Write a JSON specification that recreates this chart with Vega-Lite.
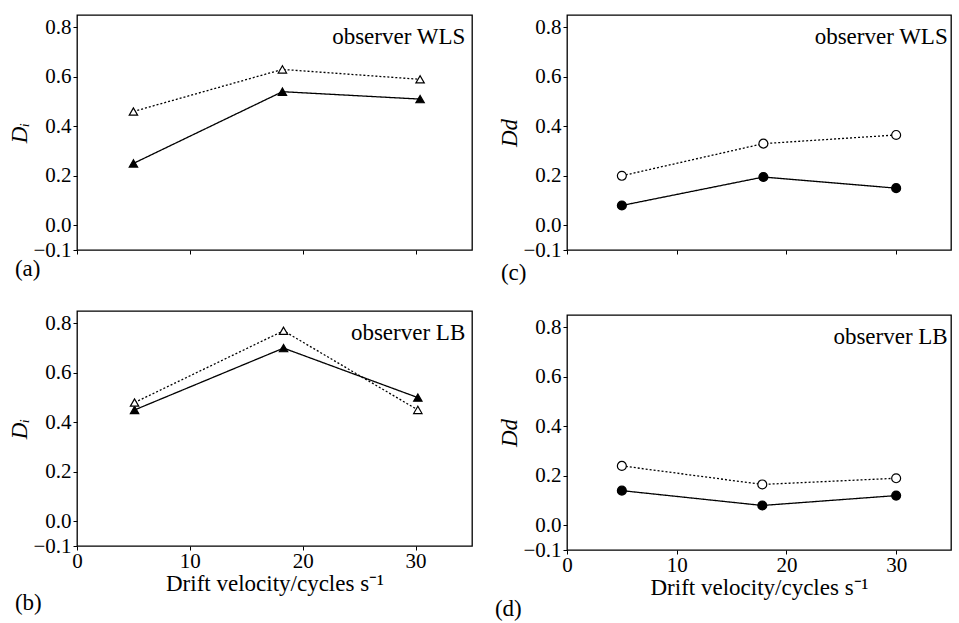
{
  "$schema": "https://vega.github.io/schema/vega-lite/v6.json",
  "background": "white",
  "padding": {"left": 8, "top": 14, "right": 0, "bottom": 0},
  "datasets": {
    "a": [
      {"x": 5, "y": 0.25, "series": "filled"}, {"x": 18.2, "y": 0.54, "series": "filled"}, {"x": 30.4, "y": 0.51, "series": "filled"},
      {"x": 5, "y": 0.46, "series": "open"}, {"x": 18.2, "y": 0.63, "series": "open"}, {"x": 30.4, "y": 0.59, "series": "open"}
    ],
    "b": [
      {"x": 5.1, "y": 0.45, "series": "filled"}, {"x": 18.3, "y": 0.70, "series": "filled"}, {"x": 30.2, "y": 0.50, "series": "filled"},
      {"x": 5.1, "y": 0.48, "series": "open"}, {"x": 18.3, "y": 0.77, "series": "open"}, {"x": 30.2, "y": 0.45, "series": "open"}
    ],
    "c": [
      {"x": 5, "y": 0.08, "series": "filled"}, {"x": 17.9, "y": 0.195, "series": "filled"}, {"x": 30, "y": 0.15, "series": "filled"},
      {"x": 5, "y": 0.20, "series": "open"}, {"x": 17.9, "y": 0.33, "series": "open"}, {"x": 30, "y": 0.365, "series": "open"}
    ],
    "d": [
      {"x": 5, "y": 0.14, "series": "filled"}, {"x": 17.8, "y": 0.08, "series": "filled"}, {"x": 30, "y": 0.12, "series": "filled"},
      {"x": 5, "y": 0.24, "series": "open"}, {"x": 17.8, "y": 0.165, "series": "open"}, {"x": 30, "y": 0.19, "series": "open"}
    ],
    "labWLS": [{"label": "observer WLS"}],
    "labLB": [{"label": "observer LB"}]
  },
  "config": {
    "font": "Liberation Serif",
    "view": {"stroke": "black", "strokeWidth": 1.3},
    "axis": {"grid": false, "domain": false, "tickColor": "black", "labelColor": "black", "titleColor": "black", "labelFontSize": 21, "titleFontSize": 23, "titleFontWeight": "normal", "tickSize": 4, "labelPadding": 2, "labelOverlap": false},
    "axisX": {"labelFlush": false},
    "title": {"fontSize": 23, "fontWeight": "normal", "color": "black"},
    "text": {"color": "black"}
  },
  "hconcat": [
    {
      "spacing": 28,
      "vconcat": [
        {
          "width": 395, "height": 235,
          "title": {"text": "(a)", "orient": "bottom", "anchor": "start", "frame": "bounds", "offset": -2, "dx": 6},
          "layer": [
            {"data": {"name": "a"}, "mark": {"type": "line", "color": "black", "strokeWidth": 1.3},
             "encoding": {
               "x": {"field": "x", "type": "quantitative", "scale": {"domain": [0, 35], "nice": false}, "axis": {"values": [0, 10, 20, 30], "labels": false, "title": null}},
               "y": {"field": "y", "type": "quantitative", "scale": {"domain": [-0.1, 0.85], "nice": false, "zero": false}, "axis": {"values": [-0.1, 0, 0.2, 0.4, 0.6, 0.8], "format": ".1f", "labelOverlap": false, "title": "Dᵢ", "titleFontStyle": "italic", "titlePadding": 1}},
               "detail": {"field": "series"},
               "strokeDash": {"field": "series", "type": "nominal", "scale": {"domain": ["filled", "open"], "range": [[1, 0], [2, 2]]}, "legend": null}}},
            {"mark": {"type": "rule", "strokeDash": [5, 4], "strokeWidth": 1, "color": "black"},
             "encoding": {"y": {"datum": 0, "type": "quantitative", "scale": {"domain": [-0.1, 0.85], "nice": false, "zero": false}}}},
            {"data": {"name": "a"}, "mark": {"type": "point", "shape": "triangle-up", "filled": true, "stroke": "black", "strokeWidth": 1.2, "size": 70, "opacity": 1},
             "encoding": {
               "x": {"field": "x", "type": "quantitative"},
               "y": {"field": "y", "type": "quantitative"},
               "fill": {"field": "series", "type": "nominal", "scale": {"domain": ["filled", "open"], "range": ["black", "white"]}, "legend": null}}},
            {"data": {"name": "labWLS"}, "mark": {"type": "text", "align": "right", "baseline": "middle", "fontSize": 23},
             "encoding": {"x": {"datum": 34.4, "type": "quantitative"}, "y": {"datum": 0.76, "type": "quantitative"}, "text": {"field": "label"}}}
          ]
        },
        {
          "width": 395, "height": 235,
          "title": {"text": "(b)", "orient": "bottom", "anchor": "start", "frame": "bounds", "offset": -3, "dx": 6},
          "layer": [
            {"data": {"name": "b"}, "mark": {"type": "line", "color": "black", "strokeWidth": 1.3},
             "encoding": {
               "x": {"field": "x", "type": "quantitative", "scale": {"domain": [0, 35], "nice": false}, "axis": {"values": [0, 10, 20, 30], "labelPadding": 0, "title": "Drift velocity/cycles s⁻¹", "titlePadding": 1}},
               "y": {"field": "y", "type": "quantitative", "scale": {"domain": [-0.1, 0.85], "nice": false, "zero": false}, "axis": {"values": [-0.1, 0, 0.2, 0.4, 0.6, 0.8], "format": ".1f", "labelOverlap": false, "title": "Dᵢ", "titleFontStyle": "italic", "titlePadding": 1}},
               "detail": {"field": "series"},
               "strokeDash": {"field": "series", "type": "nominal", "scale": {"domain": ["filled", "open"], "range": [[1, 0], [2, 2]]}, "legend": null}}},
            {"mark": {"type": "rule", "strokeDash": [5, 4], "strokeWidth": 1, "color": "black"},
             "encoding": {"y": {"datum": 0, "type": "quantitative", "scale": {"domain": [-0.1, 0.85], "nice": false, "zero": false}}}},
            {"data": {"name": "b"}, "mark": {"type": "point", "shape": "triangle-up", "filled": true, "stroke": "black", "strokeWidth": 1.2, "size": 70, "opacity": 1},
             "encoding": {
               "x": {"field": "x", "type": "quantitative"},
               "y": {"field": "y", "type": "quantitative"},
               "fill": {"field": "series", "type": "nominal", "scale": {"domain": ["filled", "open"], "range": ["black", "white"]}, "legend": null}}},
            {"data": {"name": "labLB"}, "mark": {"type": "text", "align": "right", "baseline": "middle", "fontSize": 23},
             "encoding": {"x": {"datum": 34.4, "type": "quantitative"}, "y": {"datum": 0.76, "type": "quantitative"}, "text": {"field": "label"}}}
          ]
        }
      ]
    },
    {
      "spacing": 28,
      "vconcat": [
        {
          "width": 384, "height": 235,
          "title": {"text": "(c)", "orient": "bottom", "anchor": "start", "frame": "bounds", "offset": 2, "dx": 2},
          "layer": [
            {"data": {"name": "c"}, "mark": {"type": "line", "color": "black", "strokeWidth": 1.3},
             "encoding": {
               "x": {"field": "x", "type": "quantitative", "scale": {"domain": [0, 35], "nice": false}, "axis": {"values": [0, 10, 20, 30], "labels": false, "title": null}},
               "y": {"field": "y", "type": "quantitative", "scale": {"domain": [-0.1, 0.85], "nice": false, "zero": false}, "axis": {"values": [-0.1, 0, 0.2, 0.4, 0.6, 0.8], "format": ".1f", "labelOverlap": false, "title": "Dd", "titleFontStyle": "italic", "titlePadding": 1}},
               "detail": {"field": "series"},
               "strokeDash": {"field": "series", "type": "nominal", "scale": {"domain": ["filled", "open"], "range": [[1, 0], [2, 2]]}, "legend": null}}},
            {"mark": {"type": "rule", "strokeDash": [5, 4], "strokeWidth": 1, "color": "black"},
             "encoding": {"y": {"datum": 0, "type": "quantitative", "scale": {"domain": [-0.1, 0.85], "nice": false, "zero": false}}}},
            {"data": {"name": "c"}, "mark": {"type": "point", "shape": "circle", "filled": true, "stroke": "black", "strokeWidth": 1.2, "size": 80, "opacity": 1},
             "encoding": {
               "x": {"field": "x", "type": "quantitative"},
               "y": {"field": "y", "type": "quantitative"},
               "fill": {"field": "series", "type": "nominal", "scale": {"domain": ["filled", "open"], "range": ["black", "white"]}, "legend": null}}},
            {"data": {"name": "labWLS"}, "mark": {"type": "text", "align": "right", "baseline": "middle", "fontSize": 23},
             "encoding": {"x": {"datum": 34.7, "type": "quantitative"}, "y": {"datum": 0.76, "type": "quantitative"}, "text": {"field": "label"}}}
          ]
        },
        {
          "width": 384, "height": 235,
          "title": {"text": "(d)", "orient": "bottom", "anchor": "start", "frame": "bounds", "offset": -1, "dx": -4},
          "layer": [
            {"data": {"name": "d"}, "mark": {"type": "line", "color": "black", "strokeWidth": 1.3},
             "encoding": {
               "x": {"field": "x", "type": "quantitative", "scale": {"domain": [0, 35], "nice": false}, "axis": {"values": [0, 10, 20, 30], "labelPadding": 0, "title": "Drift velocity/cycles s⁻¹", "titlePadding": 1}},
               "y": {"field": "y", "type": "quantitative", "scale": {"domain": [-0.1, 0.85], "nice": false, "zero": false}, "axis": {"values": [-0.1, 0, 0.2, 0.4, 0.6, 0.8], "format": ".1f", "labelOverlap": false, "title": "Dd", "titleFontStyle": "italic", "titlePadding": 1}},
               "detail": {"field": "series"},
               "strokeDash": {"field": "series", "type": "nominal", "scale": {"domain": ["filled", "open"], "range": [[1, 0], [2, 2]]}, "legend": null}}},
            {"mark": {"type": "rule", "strokeDash": [5, 4], "strokeWidth": 1, "color": "black"},
             "encoding": {"y": {"datum": 0, "type": "quantitative", "scale": {"domain": [-0.1, 0.85], "nice": false, "zero": false}}}},
            {"data": {"name": "d"}, "mark": {"type": "point", "shape": "circle", "filled": true, "stroke": "black", "strokeWidth": 1.2, "size": 80, "opacity": 1},
             "encoding": {
               "x": {"field": "x", "type": "quantitative"},
               "y": {"field": "y", "type": "quantitative"},
               "fill": {"field": "series", "type": "nominal", "scale": {"domain": ["filled", "open"], "range": ["black", "white"]}, "legend": null}}},
            {"data": {"name": "labLB"}, "mark": {"type": "text", "align": "right", "baseline": "middle", "fontSize": 23},
             "encoding": {"x": {"datum": 34.7, "type": "quantitative"}, "y": {"datum": 0.76, "type": "quantitative"}, "text": {"field": "label"}}}
          ]
        }
      ]
    }
  ],
  "spacing": 21
}
